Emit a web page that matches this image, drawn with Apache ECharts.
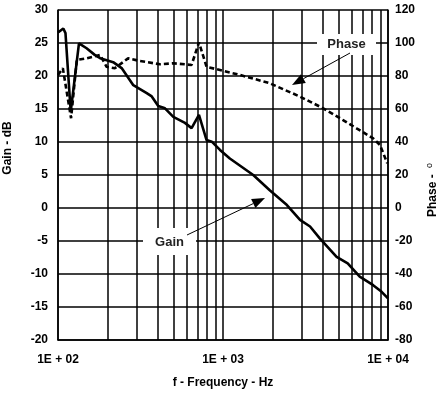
<!DOCTYPE html>
<html><head><meta charset="utf-8">
<script src="https://cdn.jsdelivr.net/npm/echarts@6/dist/echarts.min.js"></script>
<style>html,body{margin:0;padding:0;background:#fff}#c{width:440px;height:393px}</style>
</head><body><div id="c"></div>
<script>
const gainFreq = [100,107.7,111,119.4,134,149,167,180,216,243,286,345,370,405,445,500,588,645,715,795,855,959,1100,1525,1920,2440,2930,3370,3860,4880,5700,6740,8130,9150,10000];
const gain = [26.6,27.2,26.5,14.6,24.95,24.2,23.2,22.7,22.1,21.2,18.6,17.4,16.9,15.45,15.1,13.8,12.9,12.1,14.1,10.3,10.05,8.8,7.5,5.0,2.7,0.45,-1.8,-2.8,-4.6,-7.4,-8.4,-10.4,-11.7,-12.7,-13.7];
const phaseFreq = [100,107,120,130,149,180,197,221,266,314,415,500,645,715,795,959,1270,1920,2930,4050,5340,6450,8130,8940,9900];
const phase = [80.6,84.7,54.4,89.7,90.7,92.7,85.6,84.7,90.7,89.1,87.1,87.7,86.7,100.4,85.6,83.6,80.6,75.6,67.5,60.4,53.3,48.3,42.2,38.2,27.1];
const gridFreq = [200,300,400,500,600,700,800,900,2000,3000,4000,5000,6000,7000,8000,9000];
const xTickValues = [100,1000,10000];
const xTickLabels = ['1E + 02','1E + 03','1E + 04'];

const FONT = '"Liberation Sans", Arial, sans-serif';
const chart = echarts.init(document.getElementById('c'), null, {renderer:'canvas'});

function arrow(sx, sy, tx, ty) {
  const dx = tx - sx, dy = ty - sy, len = Math.hypot(dx, dy);
  const ux = dx / len, uy = dy / len, L = 13, W = 5;
  const bx = tx - ux * L, by = ty - uy * L;
  return [
    {type:'line', z:100, shape:{x1:sx, y1:sy, x2:bx, y2:by}, style:{stroke:'#000', lineWidth:1}},
    {type:'polygon', z:100, shape:{points:[[tx,ty],[bx - uy*W, by + ux*W],[bx + uy*W, by - ux*W]]}, style:{fill:'#000'}}
  ];
}

const labelStyle = {fontFamily: FONT, fontWeight:'bold', fontSize:13, fill:'#222'};

chart.setOption({
  animation:false,
  backgroundColor:'#fff',
  grid:{left:58, right:52, top:10, bottom:53},
  xAxis:{
    type:'log', logBase:10, min:100, max:10000,
    axisLine:{show:true, onZero:false, lineStyle:{color:'#000', width:1.5}},
    axisTick:{show:false},
    splitLine:{show:true, lineStyle:{color:'#000', width:1.5}},
    axisLabel:{margin:14, color:'#000', fontFamily:FONT, fontWeight:'bold', fontSize:12,
      formatter:v => { const i = xTickValues.findIndex(t => Math.abs(t - v) / t < 1e-6); return i >= 0 ? xTickLabels[i] : ''; }}
  },
  yAxis:[{
    type:'value', min:-20, max:30, interval:5,
    axisLine:{show:true, lineStyle:{color:'#000', width:1.5}},
    axisTick:{show:false},
    splitLine:{show:true, lineStyle:{color:'#000', width:1.5}},
    axisLabel:{margin:10, color:'#000', fontFamily:FONT, fontWeight:'bold', fontSize:12}
  },{
    type:'value', min:-80, max:120, interval:20,
    axisLine:{show:true, lineStyle:{color:'#000', width:1.5}},
    axisTick:{show:false},
    splitLine:{show:false},
    axisLabel:{margin:7, color:'#000', fontFamily:FONT, fontWeight:'bold', fontSize:12}
  }],
  series:[{
    name:'Gain', type:'line', yAxisIndex:0, showSymbol:false, z:5,
    data: gainFreq.map((f, i) => [f, gain[i]]),
    lineStyle:{color:'#000', width:2.6},
    markLine:{silent:true, symbol:['none','none'], label:{show:false}, animation:false,
      lineStyle:{color:'#000', width:1.5, type:'solid'},
      emphasis:{disabled:true},
      data: gridFreq.map(f => ({xAxis:f}))}
  },{
    name:'Phase', type:'line', yAxisIndex:1, showSymbol:false, z:5,
    data: phaseFreq.map((f, i) => [f, phase[i]]),
    lineStyle:{color:'#000', width:2.6, type:[5,3]}
  }],
  graphic:[
    {type:'rect', z:90, shape:{x:317, y:34, width:59, height:21}, style:{fill:'#fff'}},
    {type:'text', z:100, x:346.5, y:44.5, style:Object.assign({text:'Phase', align:'center', verticalAlign:'middle'}, labelStyle)},
    {type:'rect', z:90, shape:{x:143, y:228, width:53, height:27}, style:{fill:'#fff'}},
    {type:'text', z:100, x:169.5, y:242, style:Object.assign({text:'Gain', align:'center', verticalAlign:'middle'}, labelStyle)},
    ...arrow(350, 53, 292, 85),
    ...arrow(187, 235, 265, 198),
    {type:'text', z:100, x:8, y:148, rotation:Math.PI/2,
      style:{text:'Gain - dB', align:'center', verticalAlign:'middle', fontFamily:FONT, fontWeight:'bold', fontSize:12, fill:'#000'}},
    {type:'text', z:100, x:433, y:190, rotation:Math.PI/2,
      style:{text:'Phase - {s|o}', align:'center', verticalAlign:'middle', fontFamily:FONT, fontWeight:'bold', fontSize:12, fill:'#000',
        rich:{s:{fontFamily:FONT, fontSize:9, fill:'#000', verticalAlign:'top', padding:[0,0,6,3]}}}},
    {type:'text', z:100, x:223, y:383,
      style:{text:'f - Frequency - Hz', align:'center', verticalAlign:'middle', fontFamily:FONT, fontWeight:'bold', fontSize:12, fill:'#000'}}
  ]
});
</script></body></html>
